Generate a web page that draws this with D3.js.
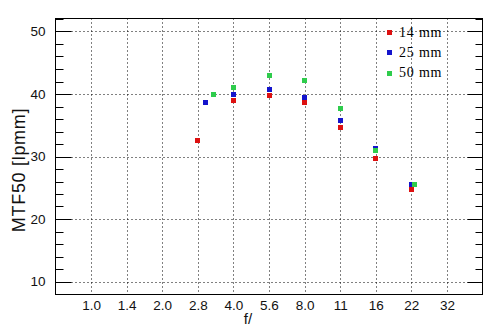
<!DOCTYPE html>
<html>
<head>
<meta charset="utf-8">
<script src="https://cdn.jsdelivr.net/npm/d3@7"></script>
<style>
  body { margin: 0; background: #fff; }
  svg { display: block; }
</style>
</head>
<body>
<div id="grafico"></div>
<script>
// Dados (f-número e MTF50 em lp/mm)
const series = ["14 mm", "25 mm", "50 mm"];
const cores = ["#dd1010", "#1414cc", "#2ecc4c"];

const f14 = [2.83, 4, 5.66, 8, 11.3, 16, 22.6];
const mtf14 = [32.5, 38.9, 39.7, 38.6, 34.6, 29.6, 24.8];

const f25 = [3.05, 4, 5.66, 8, 11.3, 16, 22.6];
const mtf25 = [38.6, 40.0, 40.8, 39.4, 35.8, 31.3, 25.6];

const f50 = [3.3, 4, 5.66, 8, 11.3, 16, 23.3];
const mtf50 = [40.0, 41.1, 43.0, 42.1, 37.6, 30.9, 25.6];

// Ticks do eixo X (paradas de 1/2 em log2) e rótulos nominais
const xTickValores = [1, 1.414, 2, 2.828, 4, 5.657, 8, 11.31, 16, 22.63, 32];
const xTickRotulos = ["1.0", "1.4", "2.0", "2.8", "4.0", "5.6", "8.0", "11", "16", "22", "32"];
const yTicksMaiores = [10, 20, 30, 40, 50];

const dadosSeries = [
    { nome: series[0], f: f14, v: mtf14, cor: cores[0] },
    { nome: series[1], f: f25, v: mtf25, cor: cores[1] },
    { nome: series[2], f: f50, v: mtf50, cor: cores[2] }
];

const fonteEixo = "'Liberation Sans Narrow', 'Liberation Sans', Arial, sans-serif";

function desenhar() {
    const W = 494, H = 331;
    const esq = 55.5, dir = 482.5, topo = 18.5, base = 294.5;

    const svg = d3.select("#grafico").append("svg")
        .attr("width", W)
        .attr("height", H);

    // Escalas
    const x = d3.scaleLog().base(2)
        .domain([Math.SQRT1_2, 32 * Math.SQRT2])
        .range([esq, dir]);

    const y = d3.scaleLinear()
        .domain([7.92, 52.08])
        .range([base, topo]);

    const px = v => Math.round(v) + 0.5;

    // Grade vertical pontilhada
    svg.append("g").selectAll("line")
        .data(xTickValores)
        .join("line")
        .attr("x1", d => px(x(d))).attr("x2", d => px(x(d)))
        .attr("y1", topo).attr("y2", base)
        .attr("stroke", "#000")
        .attr("stroke-dasharray", "1,3");

    // Grade horizontal pontilhada
    svg.append("g").selectAll("line")
        .data(yTicksMaiores)
        .join("line")
        .attr("x1", esq).attr("x2", dir)
        .attr("y1", d => px(y(d))).attr("y2", d => px(y(d)))
        .attr("stroke", "#000")
        .attr("stroke-dasharray", "1,3");

    // Ticks do eixo Y (esquerda e direita)
    const yTicks = d3.range(8, 53, 2);
    const gTicks = svg.append("g").attr("stroke", "#000");
    yTicks.forEach(t => {
        const maior = t % 10 === 0;
        const yy = px(y(t));
        gTicks.append("line")
            .attr("x1", esq).attr("x2", esq + (maior ? 16 : 8))
            .attr("y1", yy).attr("y2", yy);
        gTicks.append("line")
            .attr("x1", dir).attr("x2", dir - (maior ? 15 : 7))
            .attr("y1", yy).attr("y2", yy);
    });

    // Moldura
    svg.append("rect")
        .attr("x", esq).attr("y", topo)
        .attr("width", dir - esq).attr("height", base - topo)
        .attr("fill", "none")
        .attr("stroke", "#000");

    // Rótulos Y
    svg.append("g").selectAll("text")
        .data(yTicksMaiores)
        .join("text")
        .attr("x", 45.5)
        .attr("y", d => y(d) + 4.5)
        .attr("text-anchor", "end")
        .attr("font-family", fonteEixo)
        .attr("font-size", 13.5)
        .attr("fill", "#111")
        .text(d => d);

    // Rótulos X
    svg.append("g").selectAll("text")
        .data(xTickValores)
        .join("text")
        .attr("x", d => x(d) + 0.5)
        .attr("y", 310)
        .attr("text-anchor", "middle")
        .attr("font-family", fonteEixo)
        .attr("font-size", 13.5)
        .attr("fill", "#111")
        .text((d, i) => xTickRotulos[i]);

    // Títulos dos eixos
    svg.append("text")
        .attr("x", 248)
        .attr("y", 324)
        .attr("text-anchor", "middle")
        .attr("font-family", fonteEixo)
        .attr("font-size", 15)
        .attr("fill", "#111")
        .text("f/");

    svg.append("text")
        .attr("transform", "translate(25,170) rotate(-90)")
        .attr("text-anchor", "middle")
        .attr("font-family", fonteEixo)
        .attr("font-size", 18)
        .attr("letter-spacing", 0.7)
        .attr("fill", "#111")
        .text("MTF50 [lpmm]");

    // Pontos
    const tam = 5;
    dadosSeries.forEach(s => {
        svg.append("g").selectAll("rect")
            .data(s.f.map((f, i) => [f, s.v[i]]))
            .join("rect")
            .attr("x", d => Math.round(x(d[0]) - tam / 2))
            .attr("y", d => Math.round(y(d[1]) - tam / 2))
            .attr("width", tam).attr("height", tam)
            .attr("fill", s.cor);
    });

    // Legenda
    const leg = svg.append("g");
    dadosSeries.forEach((s, i) => {
        const ly = 32 + i * 20.3;
        leg.append("rect")
            .attr("x", 387).attr("y", Math.round(ly - 2))
            .attr("width", 5).attr("height", 5)
            .attr("fill", s.cor);
        leg.append("text")
            .attr("x", 399)
            .attr("y", ly + 4.5)
            .attr("font-family", "Liberation Serif, Times New Roman, serif")
            .attr("font-size", 14)
            .attr("letter-spacing", 0.8)
            .attr("fill", "#000")
            .text(s.nome);
    });
}

document.addEventListener('DOMContentLoaded', desenhar);
</script>
</body>
</html>
